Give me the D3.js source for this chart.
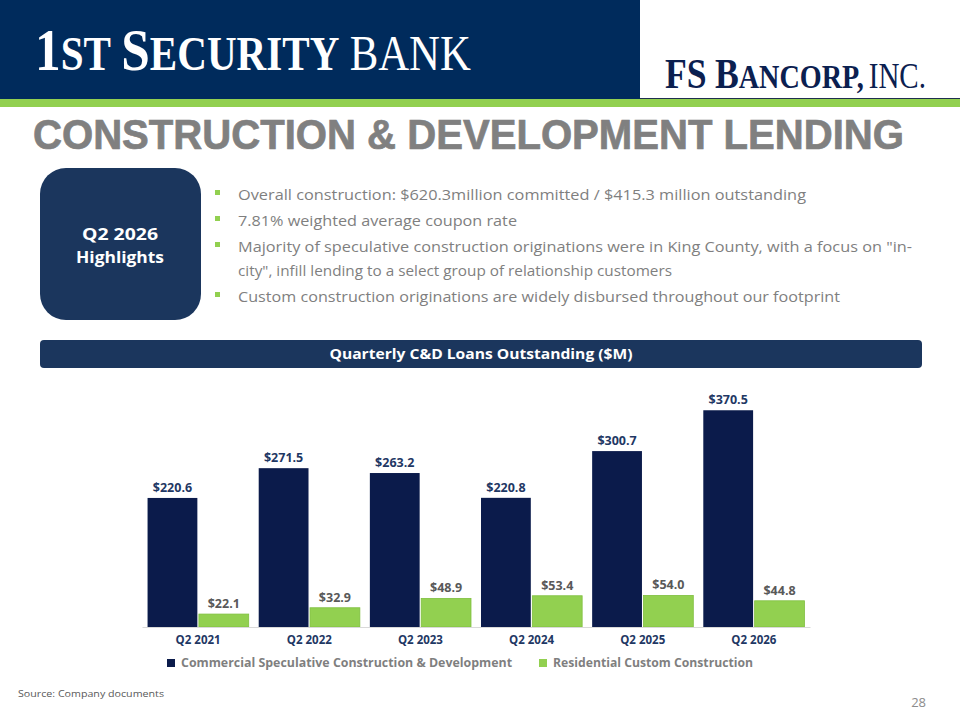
<!DOCTYPE html>
<html>
<head>
<meta charset="utf-8">
<script src="https://cdn.jsdelivr.net/npm/d3@7"></script>
<style>
  body { margin: 0; background: #fff; }
  svg { display: block; }
</style>
</head>
<body>
<svg id="slide"></svg>
<script>
const categories = ["Q2 2021", "Q2 2022", "Q2 2023", "Q2 2024", "Q2 2025", "Q2 2026"];
const seriesNames = ["Commercial Speculative Construction & Development", "Residential Custom Construction"];
const commercial = [220.6, 271.5, 263.2, 220.8, 300.7, 370.5];
const residential = [22.1, 32.9, 48.9, 53.4, 54.0, 44.8];
const bullets = [
  "Overall construction: $620.3million committed / $415.3 million outstanding",
  "7.81% weighted average coupon rate",
  "Majority of speculative construction originations were in King County, with a focus on \"in-",
  "city\", infill lending to a select group of  relationship customers",
  "Custom construction originations are widely disbursed throughout our footprint"
];
const bulletWidths = [568, 279, 674, 434, 602];
const bulletMarks = [true, true, true, false, true];

const W = 960, H = 720;
const navy = "#002b5c", boxNavy = "#1b365d", barNavy = "#0b1b4b", green = "#92d050", gray = "#7f7f7f";

const svg = d3.select("#slide")
  .attr("width", W)
  .attr("height", H)
  .attr("viewBox", [0, 0, W, H]);

// pieces of text set one after another, then squeezed to a target width
function textRun(x, y, pieces, targetWidth, fill, family) {
  const g = svg.append("g");
  let cx = 0;
  pieces.forEach(p => {
    const t = g.append("text")
      .attr("x", cx).attr("y", 0)
      .attr("fill", fill)
      .attr("font-family", family)
      .attr("font-size", p.size)
      .attr("font-weight", p.bold ? "bold" : "normal")
      .text(p.t);
    cx += t.node().getComputedTextLength() + (p.gap || 0);
  });
  const sx = targetWidth / cx;
  g.attr("transform", `translate(${x},${y}) scale(${sx},1)`);
  return g;
}

// header
svg.append("rect").attr("x", 0).attr("y", 0).attr("width", 640).attr("height", 99).attr("fill", navy);
svg.append("line").attr("x1", 640).attr("x2", 960).attr("y1", 98.5).attr("y2", 98.5).attr("stroke", "#1f2f4f").attr("stroke-width", 1);
svg.append("rect").attr("x", 0).attr("y", 99).attr("width", W).attr("height", 8).attr("fill", green);

textRun(35, 70, [
  {t: "1", size: 60, bold: true},
  {t: "ST", size: 48, bold: true, gap: 12},
  {t: "S", size: 60, bold: true},
  {t: "ECURITY", size: 48, bold: true, gap: 12},
  {t: "BANK", size: 50}
], 436, "#fff", "Liberation Serif, serif");

textRun(665, 88, [
  {t: "FS", size: 43, bold: true, gap: 10},
  {t: "B", size: 43, bold: true},
  {t: "ANCORP,", size: 34, bold: true, gap: 6},
  {t: "INC.", size: 35}
], 261, "#0b2050", "Liberation Serif, serif");

svg.append("text")
  .attr("x", 33).attr("y", 149)
  .attr("fill", "#808080")
  .attr("stroke", "#808080")
  .attr("stroke-width", 0.7)
  .attr("font-family", "Liberation Sans, Arial, sans-serif")
  .attr("font-weight", "bold")
  .attr("font-size", 42)
  .attr("textLength", 871)
  .attr("lengthAdjust", "spacingAndGlyphs")
  .text("CONSTRUCTION &  DEVELOPMENT LENDING");

// highlights box
svg.append("rect")
  .attr("x", 40).attr("y", 168).attr("width", 161).attr("height", 152)
  .attr("rx", 26).attr("fill", boxNavy);
svg.append("text")
  .attr("x", 120).attr("y", 240)
  .attr("text-anchor", "middle").attr("fill", "#fff")
  .attr("font-family", "Open Sans, sans-serif").attr("font-weight", "bold").attr("font-size", 16.5)
  .attr("textLength", 76).attr("lengthAdjust", "spacingAndGlyphs")
  .text("Q2 2026");
svg.append("text")
  .attr("x", 120).attr("y", 263)
  .attr("text-anchor", "middle").attr("fill", "#fff")
  .attr("font-family", "Open Sans, sans-serif").attr("font-weight", "bold").attr("font-size", 16.5)
  .attr("textLength", 88).attr("lengthAdjust", "spacingAndGlyphs")
  .text("Highlights");

const bulletY = [200, 226, 252, 276, 302];
bullets.forEach((t, i) => {
  if (bulletMarks[i]) {
    svg.append("rect").attr("x", 215).attr("y", bulletY[i] - 10).attr("width", 5).attr("height", 5).attr("fill", green);
  }
  svg.append("text")
    .attr("x", 238).attr("y", bulletY[i])
    .attr("fill", gray)
    .attr("font-family", "Open Sans, sans-serif")
    .attr("font-size", 15)
    .attr("textLength", bulletWidths[i])
    .attr("lengthAdjust", "spacingAndGlyphs")
    .text(t);
});

// chart title bar
svg.append("rect")
  .attr("x", 40).attr("y", 340).attr("width", 882).attr("height", 28)
  .attr("rx", 4).attr("fill", boxNavy);
svg.append("text")
  .attr("x", 481).attr("y", 359)
  .attr("text-anchor", "middle").attr("fill", "#fff")
  .attr("font-family", "Open Sans, sans-serif").attr("font-weight", "bold").attr("font-size", 14.5)
  .attr("textLength", 303).attr("lengthAdjust", "spacingAndGlyphs")
  .text("Quarterly C&D Loans Outstanding ($M)");

// chart
const x0 = d3.scaleBand().domain(categories).range([142, 810]).paddingInner(0.09).paddingOuter(0.05);
const x1 = d3.scaleBand().domain(seriesNames).range([0, x0.bandwidth()]).paddingInner(0.03);
const y = d3.scaleLinear().domain([0, 400]).range([627, 393]);
const color = d3.scaleOrdinal().domain(seriesNames).range([barNavy, green]);

const rows = categories.map((c, i) => ({
  cat: c,
  vals: [
    {key: seriesNames[0], v: commercial[i]},
    {key: seriesNames[1], v: residential[i]}
  ]
}));

const chart = svg.append("g");
const groups = chart.selectAll("g.grp")
  .data(rows)
  .join("g")
  .attr("class", "grp")
  .attr("transform", d => `translate(${x0(d.cat)},0)`);

groups.selectAll("rect")
  .data(d => d.vals)
  .join("rect")
  .attr("x", d => x1(d.key))
  .attr("y", d => y(d.v))
  .attr("width", x1.bandwidth())
  .attr("height", d => y(0) - y(d.v))
  .attr("fill", d => color(d.key))
  .attr("stroke", d => d.key === seriesNames[1] ? "#7fbf3f" : "none")
  .attr("stroke-width", 0.8);

groups.selectAll("text")
  .data(d => d.vals)
  .join("text")
  .attr("x", d => x1(d.key) + x1.bandwidth() / 2)
  .attr("y", d => y(d.v) - 6)
  .attr("text-anchor", "middle")
  .attr("fill", d => d.key === seriesNames[0] ? "#1f3864" : "#595959")
  .attr("font-family", "Open Sans, sans-serif")
  .attr("font-weight", "bold")
  .attr("font-size", 12.5)
  .text(d => "$" + d.v.toFixed(1));

const xAxis = chart.append("g")
  .attr("transform", `translate(0,${y(0)})`)
  .call(d3.axisBottom(x0).tickSize(0).tickPadding(9));
xAxis.select(".domain").attr("stroke", "#d9d9d9").attr("stroke-width", 1.2);
xAxis.selectAll("text")
  .attr("fill", "#1f3864")
  .attr("font-family", "Open Sans, sans-serif")
  .attr("font-weight", "bold")
  .attr("font-size", 11.5);

// legend
const legendX = [167, 539];
const legendW = [331, 200];
seriesNames.forEach((s, i) => {
  svg.append("rect").attr("x", legendX[i]).attr("y", 659).attr("width", 8).attr("height", 8).attr("fill", color(s));
  svg.append("text")
    .attr("x", legendX[i] + 14).attr("y", 667)
    .attr("fill", gray)
    .attr("font-family", "Open Sans, sans-serif")
    .attr("font-weight", "bold")
    .attr("font-size", 12)
    .attr("textLength", legendW[i])
    .attr("lengthAdjust", "spacingAndGlyphs")
    .text(s);
});

// footer
svg.append("text")
  .attr("x", 18).attr("y", 697)
  .attr("fill", "#595959")
  .attr("font-family", "Open Sans, sans-serif")
  .attr("font-size", 9.5)
  .attr("textLength", 146).attr("lengthAdjust", "spacingAndGlyphs")
  .text("Source: Company documents");
svg.append("text")
  .attr("x", 926).attr("y", 707)
  .attr("text-anchor", "end")
  .attr("fill", "#8c8c8c")
  .attr("font-family", "Open Sans, sans-serif")
  .attr("font-size", 13)
  .text("28");
</script>
</body>
</html>
